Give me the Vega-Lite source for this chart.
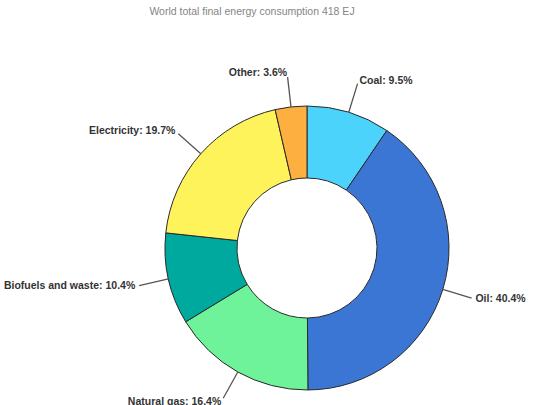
{
  "$schema": "https://vega.github.io/schema/vega-lite/v6.json",
  "autosize": "none",
  "width": 480,
  "height": 314,
  "padding": {"left": 67, "top": 91, "right": 0, "bottom": 0},
  "background": "white",
  "title": {
    "text": "World total final energy consumption 418 EJ",
    "font": "Liberation Sans",
    "fontSize": 10.5,
    "fontWeight": "normal",
    "color": "#858585",
    "anchor": "middle",
    "frame": "group",
    "dx": -55,
    "offset": 51
  },
  "data": {
    "values": [
      {"category": "Coal", "share": 9.5, "rank": 1, "label": "Coal: 9.5%"},
      {"category": "Oil", "share": 40.4, "rank": 2, "label": "Oil: 40.4%"},
      {"category": "Natural gas", "share": 16.4, "rank": 3, "label": "Natural gas: 16.4%"},
      {"category": "Biofuels and waste", "share": 10.4, "rank": 4, "label": "Biofuels and waste: 10.4%"},
      {"category": "Electricity", "share": 19.7, "rank": 5, "label": "Electricity: 19.7%"},
      {"category": "Other", "share": 3.6, "rank": 6, "label": "Other: 3.6%"}
    ]
  },
  "encoding": {
    "theta": {"field": "share", "type": "quantitative", "stack": true},
    "order": {"field": "rank", "type": "quantitative"}
  },
  "layer": [
    {
      "mark": {"type": "arc", "radius": 142, "radius2": 70, "stroke": "#2a2a2a", "strokeWidth": 1},
      "encoding": {
        "color": {
          "field": "category",
          "type": "nominal",
          "scale": {
            "domain": ["Coal", "Oil", "Natural gas", "Biofuels and waste", "Electricity", "Other"],
            "range": ["#4cd3fb", "#3b76d4", "#6ef29a", "#00a99d", "#fff35c", "#fdb03f"]
          },
          "legend": null
        }
      }
    },
    {
      "mark": {"type": "arc", "radius": 172, "radius2": 142, "padAngle": 3, "fill": "transparent", "stroke": "#555555", "strokeWidth": 1.3}
    },
    {
      "mark": {"type": "text", "radius": 175, "align": "left", "baseline": "middle", "dx": 1, "font": "Liberation Sans", "fontSize": 10.5, "fontWeight": "bold", "fill": "#333333"},
      "encoding": {
        "text": {"condition": {"test": "datum.rank <= 2", "field": "label"}, "value": ""}
      }
    },
    {
      "mark": {"type": "text", "radius": 176, "align": "right", "baseline": "middle", "dx": 0, "font": "Liberation Sans", "fontSize": 10.5, "fontWeight": "bold", "fill": "#333333"},
      "encoding": {
        "text": {"condition": {"test": "datum.rank > 2", "field": "label"}, "value": ""}
      }
    }
  ]
}
